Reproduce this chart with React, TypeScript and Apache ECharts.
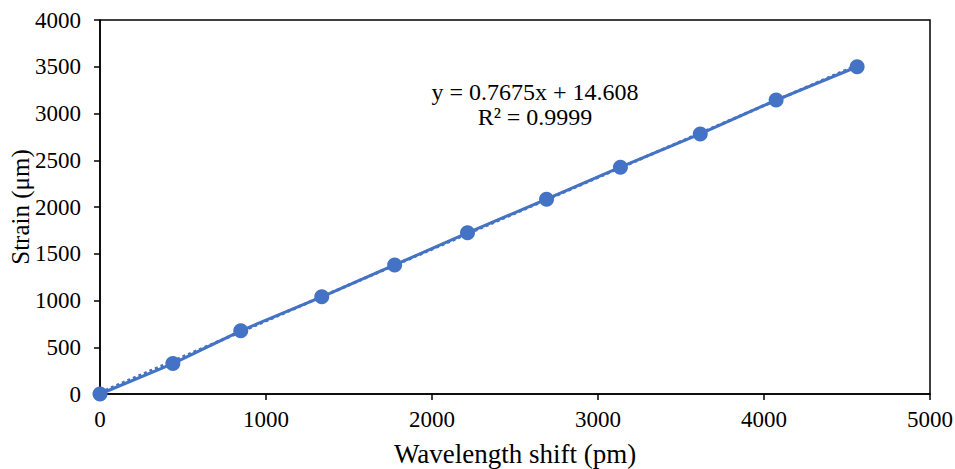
import React, { useEffect, useRef } from "react";
import * as echarts from "echarts";

const wavelengthShift = [0, 439, 848, 1336, 1775, 2214, 2690, 3135, 3616, 4073, 4561];
const strain = [0, 325, 676, 1040, 1380, 1724, 2084, 2426, 2781, 3144, 3500];
const trendSlope = 0.7675;
const trendIntercept = 14.608;
const equationLines = ["y = 0.7675x + 14.608", "R² = 0.9999"];

export default function App() {
  const ref = useRef<HTMLDivElement>(null);
  useEffect(() => {
    if (!ref.current) return;
    const chart = echarts.init(ref.current, undefined, { renderer: "svg" });
    const font = "'Liberation Serif', 'Times New Roman', serif";
    const xEnd = wavelengthShift[wavelengthShift.length - 1];
    const trend = [
      [0, trendIntercept],
      [xEnd, trendSlope * xEnd + trendIntercept],
    ];
    chart.setOption({
      animation: false,
      grid: {
        left: 100,
        top: 20,
        right: 25,
        bottom: 75,
        containLabel: false,
        outerBoundsMode: "none",
        show: true,
        borderColor: "#000",
        borderWidth: 1.5,
      },
      xAxis: {
        type: "value",
        min: 0,
        max: 5000,
        interval: 1000,
        name: "Wavelength shift (pm)",
        nameLocation: "middle",
        nameGap: 46,
        nameMoveOverlap: false,
        nameTextStyle: { fontFamily: font, fontSize: 27, color: "#000" },
        axisLine: { lineStyle: { color: "#000", width: 1.5 } },
        axisTick: { show: true, length: 6, lineStyle: { color: "#000", width: 1.5 } },
        axisLabel: { fontFamily: font, fontSize: 23, color: "#000", margin: 14, formatter: (v: number) => String(v) },
        splitLine: { show: false },
      },
      yAxis: {
        type: "value",
        min: 0,
        max: 4000,
        interval: 500,
        name: "Strain (μm)",
        nameLocation: "middle",
        nameGap: 67,
        nameMoveOverlap: false,
        nameTextStyle: { fontFamily: font, fontSize: 25, color: "#000" },
        axisLine: { show: true, lineStyle: { color: "#000", width: 1.5 } },
        axisTick: { show: true, length: 6, lineStyle: { color: "#000", width: 1.5 } },
        axisLabel: { fontFamily: font, fontSize: 23, color: "#000", margin: 19, formatter: (v: number) => String(v) },
        splitLine: { show: false },
      },
      series: [
        {
          type: "line",
          data: trend,
          showSymbol: false,
          lineStyle: { color: "#4472C4", width: 3, type: "dotted" },
          z: 1,
        },
        {
          type: "line",
          data: wavelengthShift.map((x, i) => [x, strain[i]]),
          symbol: "circle",
          symbolSize: 15,
          itemStyle: { color: "#4472C4" },
          lineStyle: { color: "#4472C4", width: 3 },
          z: 2,
        },
      ],
      graphic: equationLines.map((t, i) => ({
        type: "text",
        x: 535,
        y: 92 + i * 25,
        style: {
          text: t,
          font: `24px ${font}`,
          fill: "#000",
          textAlign: "center",
          textVerticalAlign: "middle",
        },
      })),
    });
    return () => chart.dispose();
  }, []);
  return <div ref={ref} style={{ width: 955, height: 469, position: "absolute", left: 0, top: 0 }} />;
}
